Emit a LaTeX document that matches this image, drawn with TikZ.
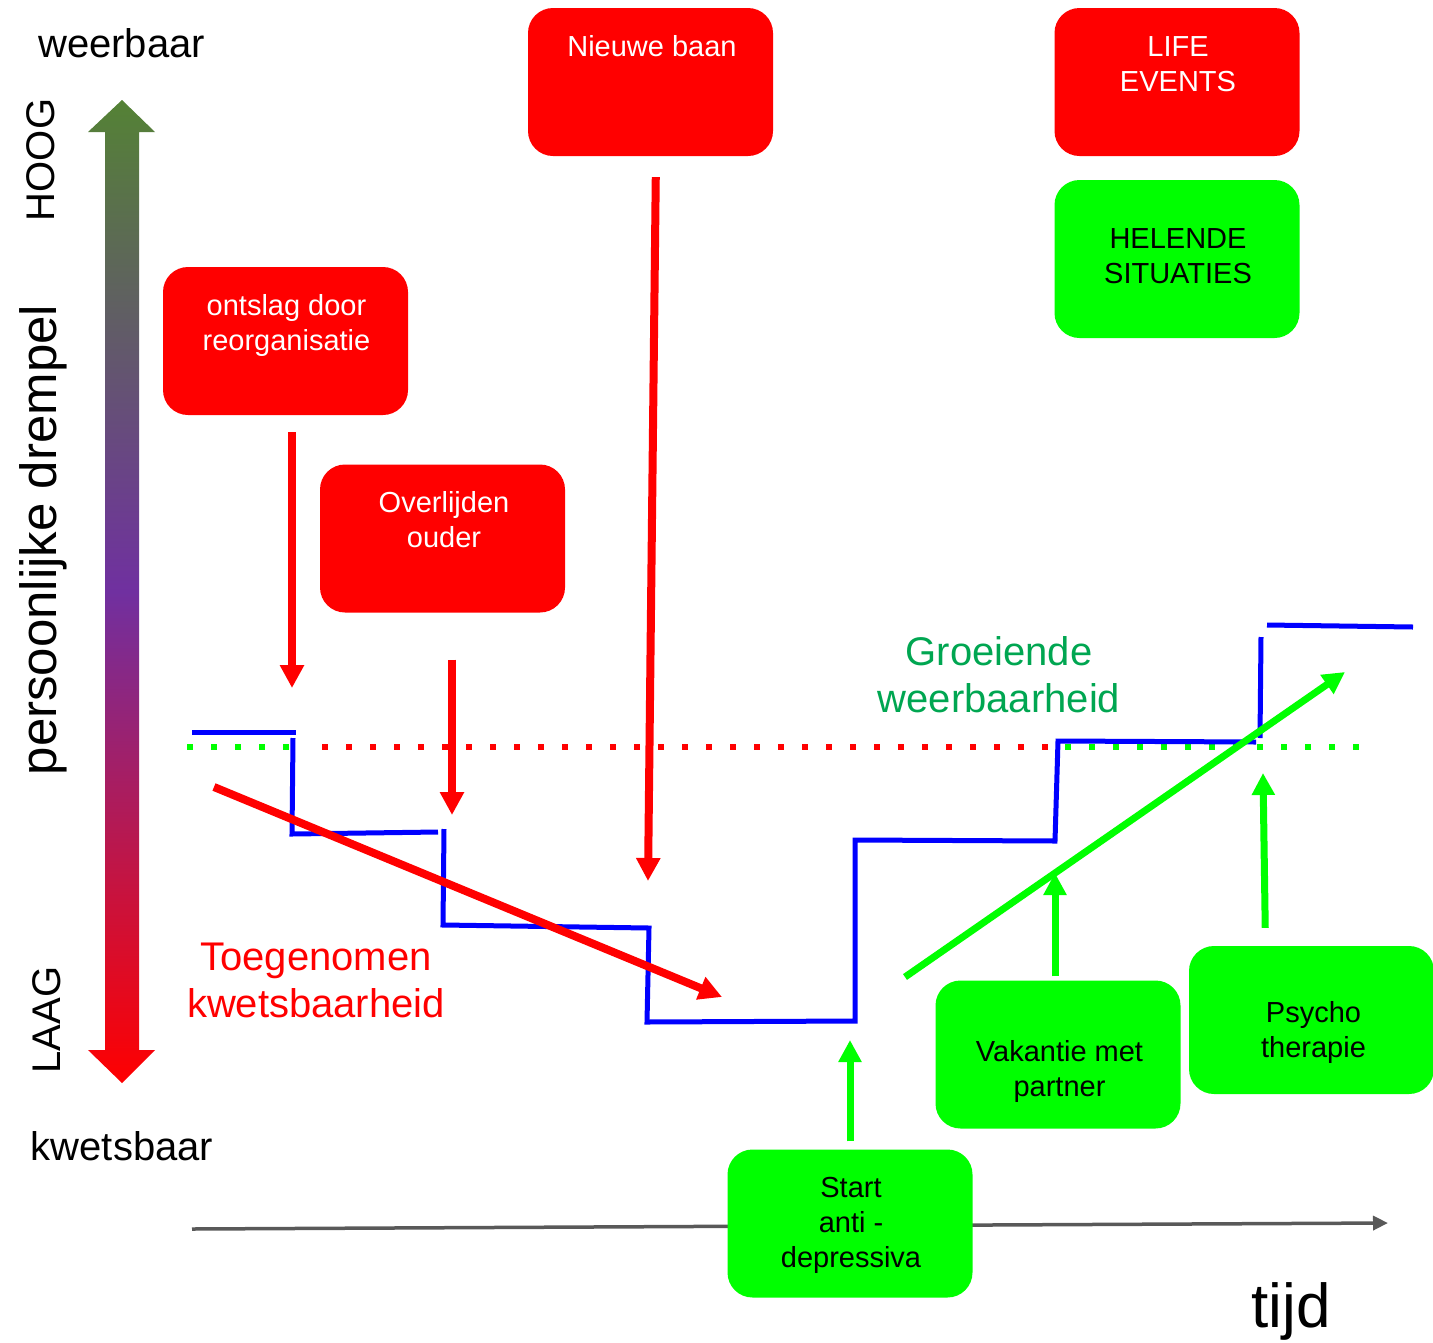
\documentclass[tikz,border=0pt]{standalone}
\usepackage{fontspec}
\setmainfont{Liberation Sans}
\usetikzlibrary{positioning, calc, arrows.meta}
\definecolor{lifered}{RGB}{255,0,0}
\definecolor{healgreen}{RGB}{0,255,0}
\definecolor{stepblue}{RGB}{0,0,255}
\definecolor{growgreen}{RGB}{0,166,81}
\definecolor{axisgray}{RGB}{89,89,89}
\definecolor{topgreen}{RGB}{84,130,53}
\definecolor{midpurple}{RGB}{112,48,160}
\pgfdeclareverticalshading{drempel}{100bp}{color(0bp)=(lifered); color(25bp)=(lifered); color(50bp)=(midpurple); color(75bp)=(topgreen); color(100bp)=(topgreen)}
%Arrow styles for events and healing situations:
\tikzstyle{EventArrow} = [line width=8pt, draw=lifered, -{Triangle[length=23pt,width=23pt]}]
\tikzstyle{HealArrow} = [line width=7pt, draw=healgreen, -{Triangle[length=22pt,width=22pt]}]

\begin{document}
\begin{tikzpicture}[x=1pt, y=-1pt,
				evtbox/.style = {rectangle, rounded corners=25pt, fill=lifered, minimum width=245pt, minimum height=148pt, inner sep=0pt},
				healbox/.style = {evtbox, fill=healgreen},
				boxtext/.style = {align=center, inner sep=0pt, font=\fontsize{29}{35}\selectfont},
				bigtext/.style = {align=center, inner sep=0pt, font=\fontsize{40}{47}\selectfont},
				blueline/.style = {draw=stepblue, line width=5pt},
				threshold/.style = {line width=6pt, dash pattern=on 6pt off 18pt},
			]
			\useasboundingbox (0,0) rectangle (1433,1342);

			\shade[shading=drempel] (122,100) -- (155,132) -- (139,132) -- (139,1050) -- (155,1050) -- (122,1083) -- (88,1050) -- (105,1050) -- (105,132) -- (88,132) -- cycle;
			\node[bigtext] (weerbaar) at (121.5,43) {weerbaar};
			\node[bigtext] (kwetsbaar) at (122,1146.5) {kwetsbaar};
			\node[bigtext, rotate=90] (hoog) at (41,160) {HOOG};
			\node[bigtext, rotate=90] (laag) at (47,1020) {LAAG};
			\node[inner sep=0pt, rotate=90, font=\fontsize{51}{60}\selectfont] (drempeltxt) at (43,540) {persoonlijke drempel};

			\coordinate (t0) at (192,1229);
			\coordinate (t1) at (1388,1223);
			\draw[axisgray, line width=3.5pt, -{Triangle[length=15pt,width=14pt]}] (t0) -- (t1);
			\node[inner sep=0pt, font=\fontsize{62}{70}\selectfont] (tijd) at (1291,1311) {tijd};

			\draw[threshold, healgreen] (187,747) -- (295,747);
			\draw[threshold, lifered] (322,747) -- (1048,747);
			\draw[threshold, healgreen] (1065,747) -- (1360,747);

			\draw[blueline] (192,732) -- (296,732);
			\draw[blueline] (293,738) -- (292,834) -- (438,832);
			\draw[blueline] (444,829) -- (443,925) -- (649,928) -- (647,1022) -- (855,1021) -- (855,840) -- (1055,841) -- (1058,741) -- (1256,742);
			\draw[blueline] (1260,738) -- (1261,637);
			\draw[blueline] (1267,625) -- (1413,627);

			\node[evtbox] (ontslag) at (285.5,341) {};
			\node[boxtext, white] (ontslagtxt) at (286.5,325.5) {ontslag door\\reorganisatie};
			\node[evtbox] (overlijden) at (442.5,538.5) {};
			\node[boxtext, white] (overlijdentxt) at (444,519.5) {Overlijden\\ouder};
			\node[evtbox] (baan) at (650.5,82) {};
			\node[boxtext, white] (baantxt) at (652,46) {Nieuwe baan};
			\node[evtbox] (life) at (1177,82) {};
			\node[boxtext, white] (lifetxt) at (1178,64) {LIFE\\EVENTS};
			\node[healbox, minimum height=158pt] (helend) at (1177,259) {};
			\node[boxtext] (helendtxt) at (1178,256) {HELENDE\\SITUATIES};
			\node[healbox] (start) at (850,1223.5) {};
			\node[boxtext] (starttxt) at (851,1225) {Start\\anti -\\depressiva};
			\node[healbox] (vakantie) at (1058,1054.5) {};
			\node[boxtext] (vakantietxt) at (1059.5,1071.5) {Vakantie met\\partner};
			\node[healbox] (psycho) at (1311.5,1020) {};
			\node[boxtext] (psychotxt) at (1313.5,1032.5) {Psycho\\therapie};

			\coordinate (o1) at (292,688);
			\coordinate (o2) at (452,815);
			\coordinate (o3) at (648,881);
			\draw[EventArrow, shorten <=17pt] (ontslag.south -| o1) -- (o1);
			\draw[EventArrow, shorten <=47pt] (overlijden.south -| o2) -- (o2);
			\draw[EventArrow, shorten <=21pt] ([xshift=5.5pt]baan.south) -- (o3);

			\coordinate (h1) at (850,1040);
			\coordinate (h2) at (1055,873);
			\coordinate (h3) at (1263,773);
			\draw[HealArrow, shorten <=8pt] (start.north) -- (h1);
			\draw[HealArrow, shorten <=4pt] ([xshift=-3pt]vakantie.north) -- (h2);
			\draw[HealArrow, shorten <=18pt] ([xshift=-46pt]psycho.north) -- (h3);

			\coordinate (down0) at (214,787);
			\coordinate (down1) at (722,997);
			\draw[EventArrow] (down0) -- (down1);
			\coordinate (up0) at (905,977);
			\coordinate (up1) at (1345,672);
			\draw[HealArrow] (up0) -- (up1);

			\node[bigtext, lifered] (toegenomen) at (316,980.5) {Toegenomen\\kwetsbaarheid};
			\node[bigtext, growgreen] (groeiend) at (999,674.5) {Groeiende\\weerbaarheid};

		\end{tikzpicture}
\end{document}
